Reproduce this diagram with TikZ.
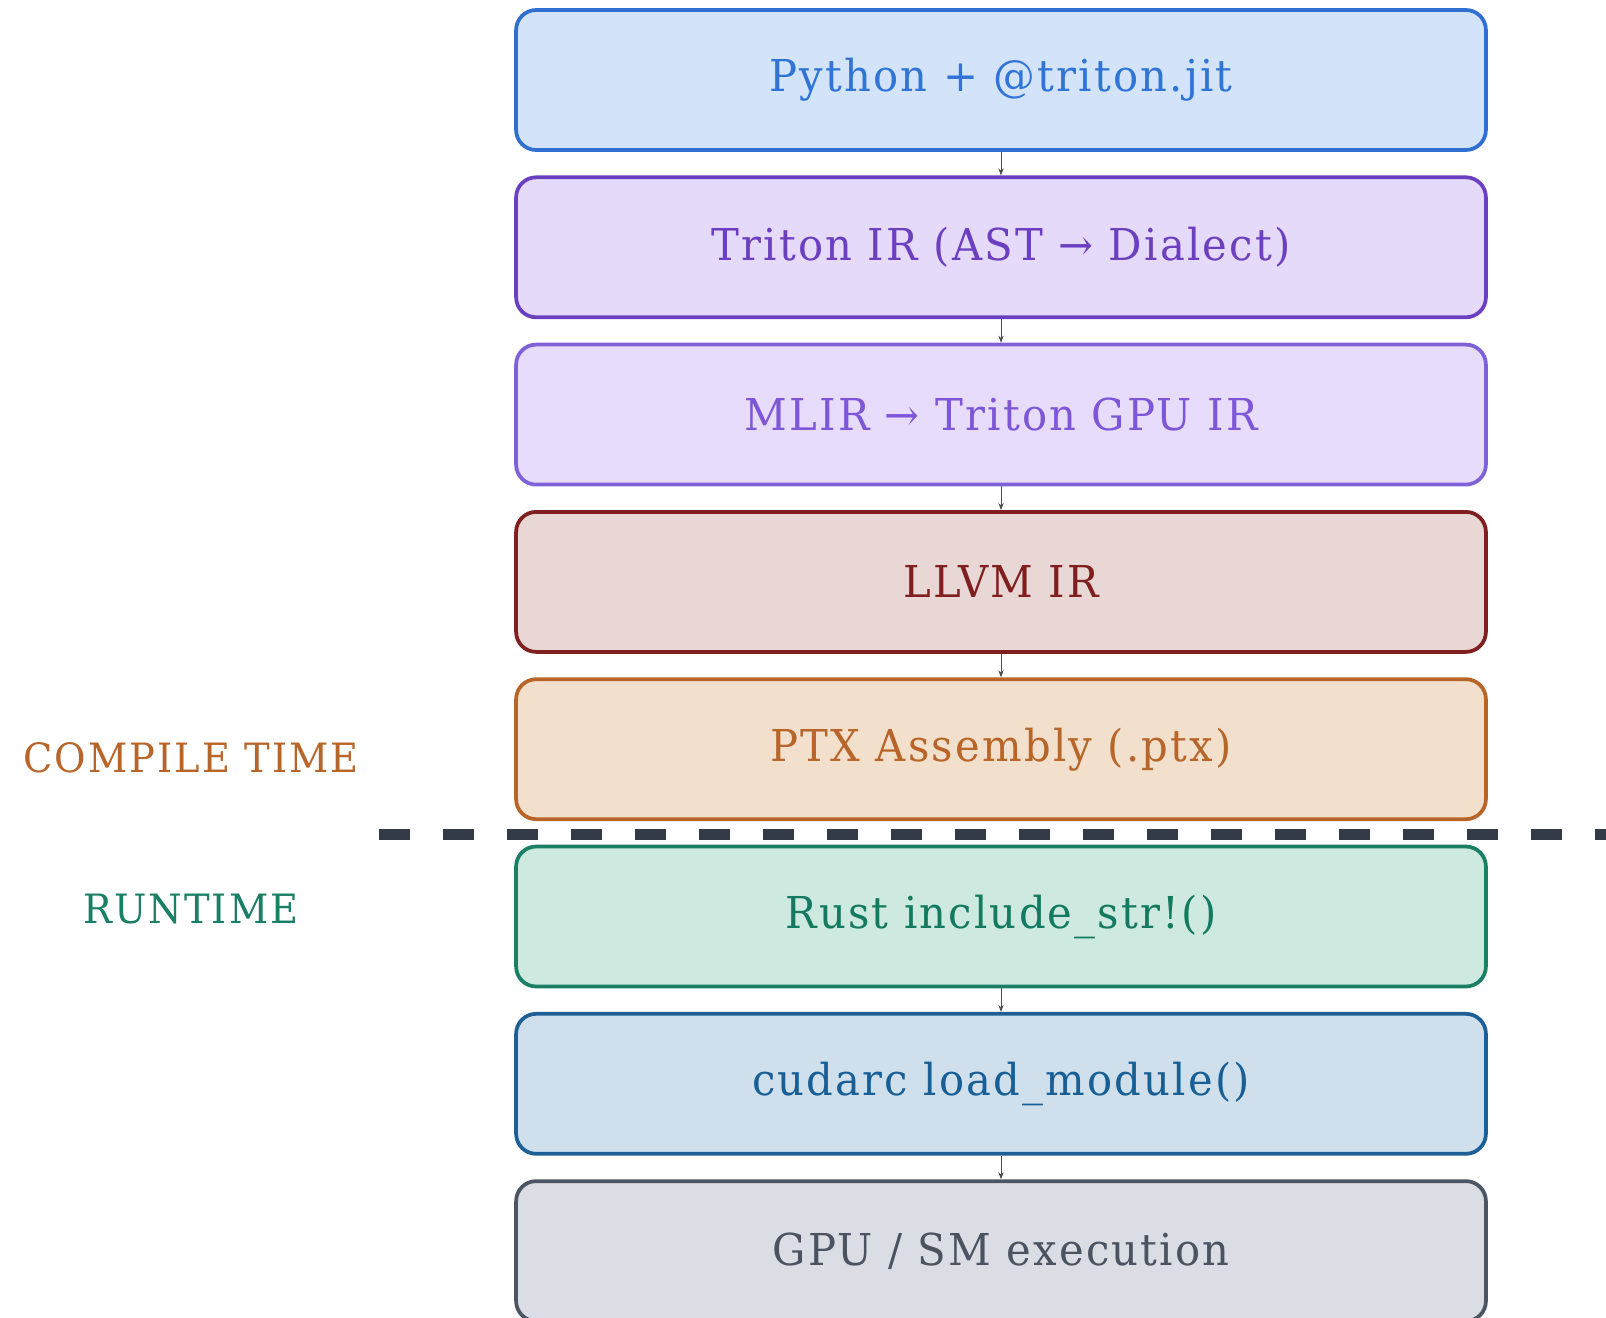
\documentclass[tikz,border=0pt]{standalone}
\usepackage{fontspec}
\setmainfont{DejaVu Serif}[FakeStretch=0.95, LetterSpace=5]
\usepackage{xcolor}
\usetikzlibrary{arrows.meta}

% stage colours: line, fill, text
\definecolor{c1line}{HTML}{2E6FCF}\definecolor{c1fill}{HTML}{D3E4FA}\definecolor{c1text}{HTML}{2F74D6}
\definecolor{c2line}{HTML}{6A40C0}\definecolor{c2fill}{HTML}{E6DAFA}\definecolor{c2text}{HTML}{6B3FBF}
\definecolor{c3line}{HTML}{8062D8}\definecolor{c3fill}{HTML}{E8DCFC}\definecolor{c3text}{HTML}{7D57D8}
\definecolor{c4line}{HTML}{7F1F1F}\definecolor{c4fill}{HTML}{E8D7D4}\definecolor{c4text}{HTML}{7F1F1F}
\definecolor{c5line}{HTML}{B8652A}\definecolor{c5fill}{HTML}{F3E0CC}\definecolor{c5text}{HTML}{B8652A}
\definecolor{c6line}{HTML}{1A7F64}\definecolor{c6fill}{HTML}{CDE9E0}\definecolor{c6text}{HTML}{137A5F}
\definecolor{c7line}{HTML}{1E5F95}\definecolor{c7fill}{HTML}{CFE0EC}\definecolor{c7text}{HTML}{185F96}
\definecolor{c8line}{HTML}{4B5563}\definecolor{c8fill}{HTML}{DADDE4}\definecolor{c8text}{HTML}{4B5260}
\definecolor{divcol}{HTML}{333B48}

\tikzset{
  stage/.style={draw, rounded corners=0.4cm, line width=0.075cm,
    minimum width=19.4cm, minimum height=2.8cm, font=\fontsize{25}{30}\selectfont},
  flow/.style={-{Stealth[length=4pt,width=3pt]}, gray!60!black, line width=0.5pt},
  phase/.style={font=\fontsize{23}{27}\selectfont},
  divider/.style={divcol, line width=0.22cm, dash pattern=on 0.62cm off 0.66cm},
}

\begin{document}
\begin{tikzpicture}[x=0.02cm,y=-0.02cm]
\useasboundingbox (0,0) rectangle (1606,1318);
\foreach \i/\txt in {1/{Python + @triton.jit},
                     2/{Triton IR (AST → Dialect)},
                     3/{MLIR → Triton GPU IR},
                     4/{LLVM IR},
                     5/{PTX Assembly (.ptx)},
                     6/{Rust include\_str!()},
                     7/{cudarc load\_module()},
                     8/{GPU / SM execution}} {
  \node[stage, draw=c\i line, fill=c\i fill, text=c\i text] (s\i) at (1001, {80+(\i-1)*167.3}) {\txt};
}
\foreach \i/\j in {1/2,2/3,3/4,4/5,6/7,7/8}
  \draw[flow] (s\i) -- (s\j);

% compile time / runtime split
\draw[divider] (379,834) -- (1640,834);
\node[phase, text=c5line] (compile) at (191,758) {COMPILE TIME};
\node[phase, text=c6line] (runtime) at (191,909) {RUNTIME};
\end{tikzpicture}
\end{document}
